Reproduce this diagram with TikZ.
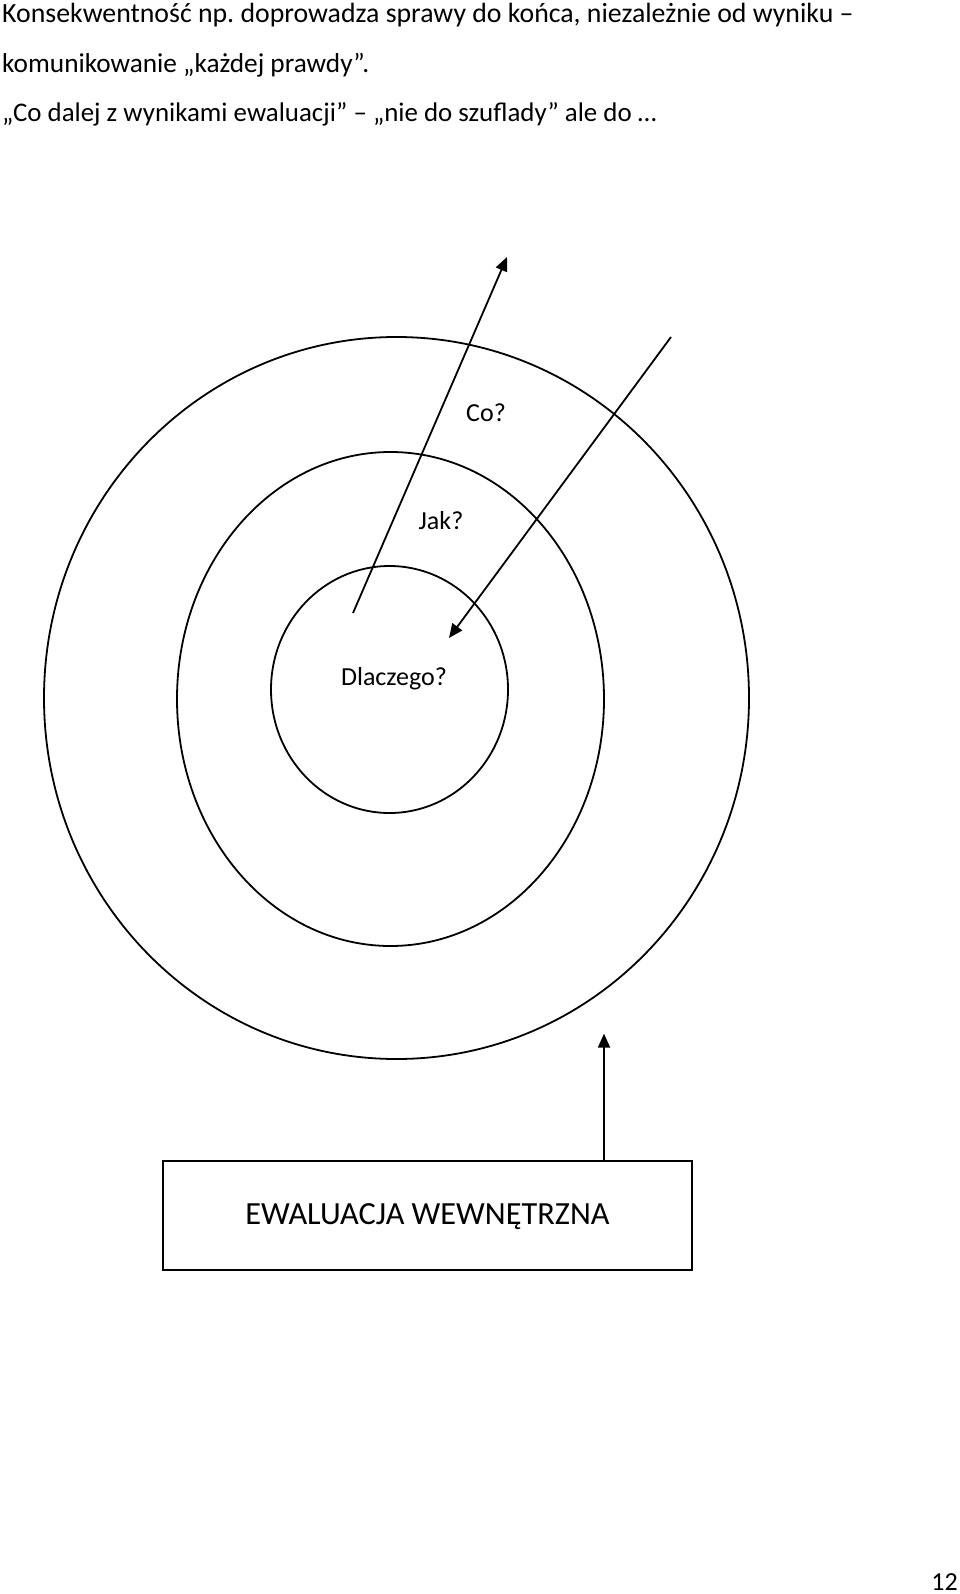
\documentclass[tikz,border=0pt]{standalone}
\usepackage{fontspec}
\setmainfont{Carlito}
\frenchspacing
\usetikzlibrary{arrows.meta,shapes.geometric}
\begin{document}
\begin{tikzpicture}[x=1pt,y=-1pt,
  ring/.style={draw,ellipse,line width=1.8pt,inner sep=0pt,outer sep=0pt},
  conn/.style={line width=1.8pt,-{Triangle[length=14pt,width=12pt]}},
  lbl/.style={inner sep=0pt,anchor=base,font=\fontsize{26}{31}\selectfont},
  hdr/.style={inner sep=0pt,anchor=base west,font=\fontsize{27.3}{32}\selectfont},
  boxstyle/.style={draw,line width=1.8pt,inner sep=0pt,minimum width=529pt,minimum height=109pt,
     text height=20pt,text depth=1pt,font=\fontsize{32.3}{38}\selectfont}]
\useasboundingbox (0,0) rectangle (960,1594);
% header text
\node[hdr,font=\fontsize{27.8}{32}\selectfont] (h1) at (2,22.7) {Konsekwentność np. doprowadza sprawy do końca, niezależnie od wyniku –};
\node[hdr] (h2) at (2,72.7) {komunikowanie „każdej prawdy”.};
\node[hdr,font=\fontsize{26.9}{32}\selectfont] (h3) at (2,121.7) {„Co dalej z wynikami ewaluacji” – „nie do szuflady” ale do …};
% rings
\node[ring,minimum width=705pt,minimum height=722pt] (outer) at (396.5,698) {};
\node[ring,minimum width=427pt,minimum height=494pt] (middle) at (390.5,699) {};
\node[ring,minimum width=237pt,minimum height=247pt] (inner) at (389.5,689.5) {};
% labels
\node[lbl] (co) at (486,421.7) {Co?};
\node[lbl] (jak) at (441,529.3) {Jak?};
\node[lbl] (dlaczego) at (394,685) {Dlaczego?};
% arrows
\coordinate (a1s) at (353,613);
\coordinate (a1e) at (507,257);
\coordinate (a2s) at (671,337);
\coordinate (a2e) at (449,638);
\draw[conn] (a1s) -- (a1e);
\draw[conn] (a2s) -- (a2e);
% box
\node[boxstyle] (box) at (427.5,1215.2) {EWALUACJA WEWNĘTRZNA};
\coordinate (a3e) at (604,1033.6);
\draw[conn] (box.north -| a3e) -- (a3e);
% page number
\node[inner sep=0pt,anchor=base east,font=\fontsize{26}{30}\selectfont] (page) at (958,1590) {12};
\end{tikzpicture}
\end{document}
